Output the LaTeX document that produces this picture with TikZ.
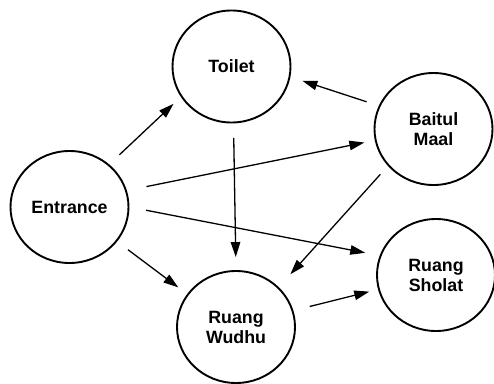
\documentclass[tikz,border=0pt]{standalone}
\usepackage{fontspec}
\setmainfont{Liberation Sans}
\usetikzlibrary{positioning, arrows.meta, shapes.geometric}

\tikzset{
  room/.style={draw, line width=1.9pt, ellipse, minimum width=118pt, minimum height=112pt,
    inner sep=0pt, align=center, font=\bfseries\fontsize{17.8}{20}\selectfont},
  flow/.style={line width=1.3pt, -{Triangle[length=15pt, width=9.5pt]}}
}

\begin{document}
\begin{tikzpicture}[x=1pt, y=-1pt]
  \useasboundingbox (0,0) rectangle (494,383);
  \fill[white] (0,0) rectangle (494,383);
  \node[room] (entr)   at (69.5,207)  {Entrance};
  \node[room] (toilet) at (231.5,66.5) {Toilet};
  \node[room] (baitul) at (433.5,129) {Baitul\\Maal};
  \node[room] (sholat) at (436,275)   {Ruang\\Sholat};
  \node[room] (wudhu)  at (236,327)   {Ruang\\Wudhu};
  % connectors: from/angle/to/angle/gap start/gap end
  \foreach \a/\aa/\b/\bb/\s/\t in {entr/47.5/toilet/211.2/14/10,
      entr/16/baitul/191.6/20/10.6, entr/0.7/sholat/161.8/17/14.6,
      entr/-36.8/wudhu/146.8/13.6/11, toilet/-88.8/wudhu/90.8/14.5/13,
      baitul/157.9/toilet/-10.8/12.8/12.5, baitul/219.4/wudhu/43.9/11.3/17.3,
      wudhu/16/sholat/194.4/16.8/9}
    \draw[flow, shorten <=\s pt, shorten >=\t pt] (\a.\aa) -- (\b.\bb);
\end{tikzpicture}
\end{document}
